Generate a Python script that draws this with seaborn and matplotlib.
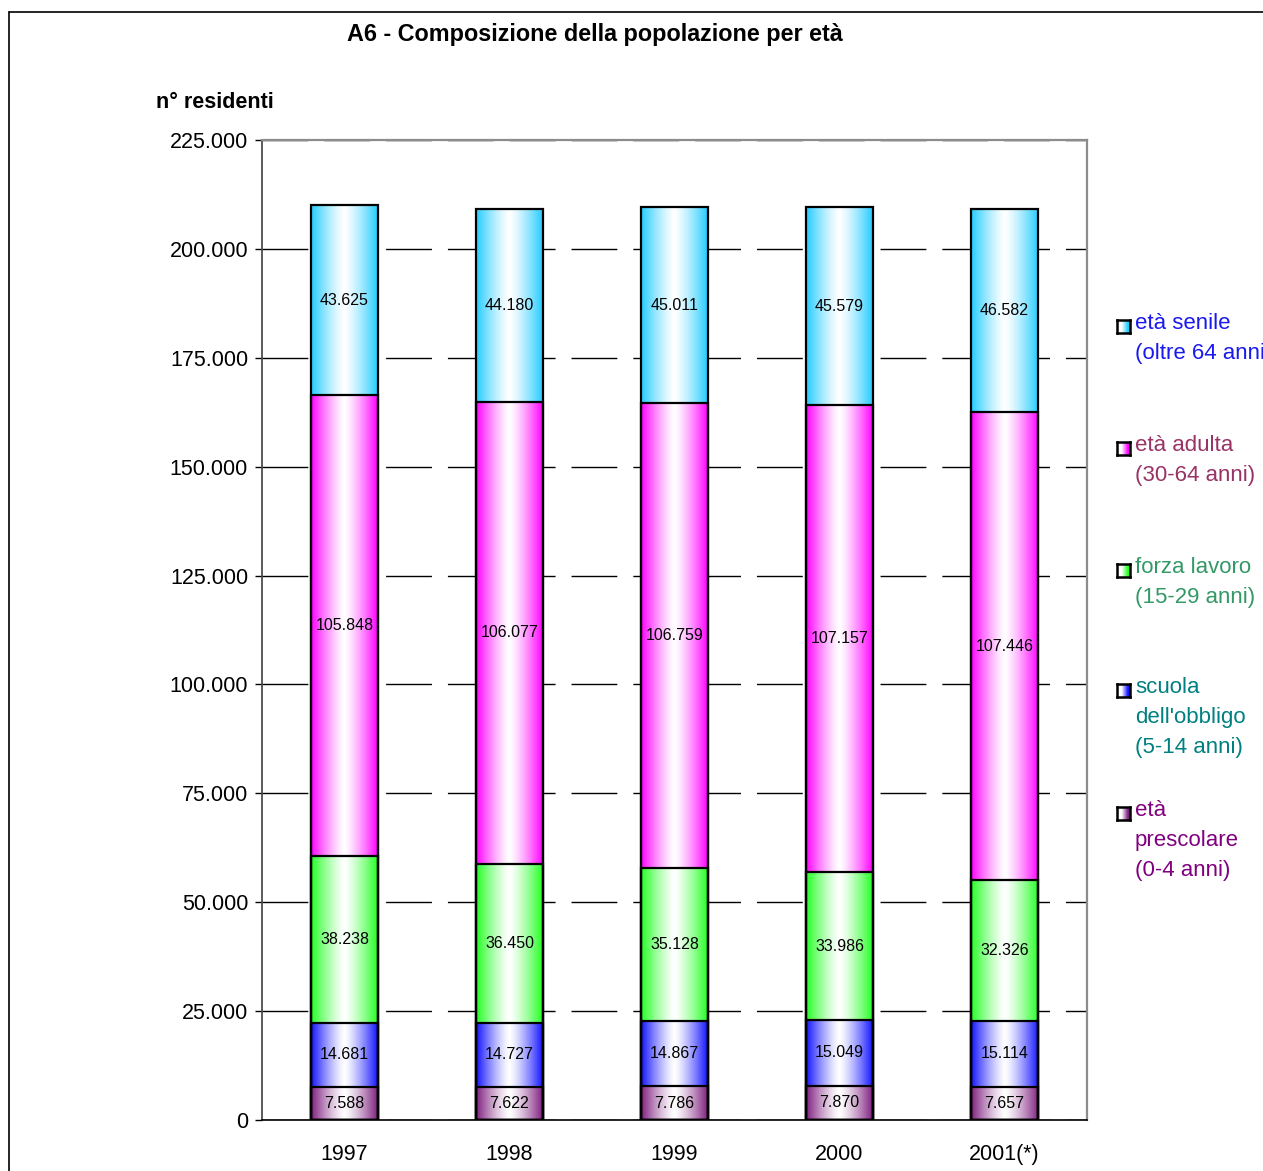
import numpy as np
import pandas as pd
import matplotlib
matplotlib.use("Agg")
import matplotlib.pyplot as plt
import seaborn as sns
from matplotlib.lines import Line2D
from matplotlib.colors import to_rgb

# ---------------- data ----------------
years = ["1997", "1998", "1999", "2000", "2001(*)"]
prescolare = [7588, 7622, 7786, 7870, 7657]
scuola = [14681, 14727, 14867, 15049, 15114]
forza = [38238, 36450, 35128, 33986, 32326]
adulta = [105848, 106077, 106759, 107157, 107446]
senile = [43625, 44180, 45011, 45579, 46582]

series_names = ["prescolare", "scuola", "forza", "adulta", "senile"]
series_vals = [prescolare, scuola, forza, adulta, senile]
series_colors = ["#7f1f7f", "#1414ff", "#22ff22", "#ff00ff", "#22ccff"]

legend_labels = [
    "età senile\n(oltre 64 anni)",
    "età adulta\n(30-64 anni)",
    "forza lavoro\n(15-29 anni)",
    "scuola\ndell'obbligo\n(5-14 anni)",
    "età\nprescolare\n(0-4 anni)",
]
legend_text_colors = ["#1a1aee", "#993366", "#339966", "#008080", "#800080"]
legend_marker_colors = ["#22ccff", "#ff00ff", "#22ff22", "#1414ff", "#7f1f7f"]

yticks = list(range(0, 225001, 25000))
title = "A6 - Composizione della popolazione per età"
ylabel = "n° residenti"

# ---------------- style ----------------
sns.set_style("white")
plt.rcParams["font.family"] = ["Liberation Sans", "DejaVu Sans"]
plt.rcParams["text.color"] = "black"
plt.rcParams["xtick.color"] = "black"
plt.rcParams["ytick.color"] = "black"
plt.rcParams["xtick.labelcolor"] = "black"
plt.rcParams["ytick.labelcolor"] = "black"

W, H = 1263, 1171
fig = plt.figure(figsize=(W / 100, H / 100), dpi=100)
ax = fig.add_axes([262 / W, 1 - 1120 / H, (1087 - 262) / W, (1120 - 140) / H])

# cumulative tops
cum = np.cumsum(np.array(series_vals), axis=0)
bottoms = np.vstack([np.zeros(len(years)), cum[:-1]])

df = pd.DataFrame({"year": years})
bar_w = 67 / 165
n_layers = len(series_names)
# draw tallest first so shorter cumulative bars overlay
for i in range(n_layers - 1, -1, -1):
    df["top"] = cum[i]
    sns.barplot(data=df, x="year", y="top", color=series_colors[i], width=bar_w,
                ax=ax, saturation=1, edgecolor="black", linewidth=1.6,
                order=years)

patches = list(ax.patches)
xs = np.linspace(-1, 1, 200)
t = np.abs(xs)
for k, p in enumerate(patches):
    layer = n_layers - 1 - k // len(years)
    j = k % len(years)
    x0 = p.get_x()
    w = p.get_width()
    top = cum[layer][j]
    bot = bottoms[layer][j]
    c = np.array(to_rgb(series_colors[layer]))
    mix = np.clip(t ** 1.3, 0, 1)[:, None]
    row = (1 - mix) * np.ones(3) + mix * c
    img = np.repeat(row[None, :, :], 2, axis=0)
    ax.imshow(img, extent=[x0, x0 + w, bot, top], aspect="auto",
              zorder=1.5, interpolation="bilinear")
    p.set_facecolor("none")
    p.set_zorder(3)
    ax.text(x0 + w / 2, (bot + top) / 2, f"{series_vals[layer][j]:,}".replace(",", "."),
            ha="center", va="center", fontsize=11.5, color="black", zorder=4)

ax.set_xlim(-0.5, len(years) - 0.5)
ax.set_ylim(0, 225000)
ax.set_yticks(yticks)
ax.set_yticklabels([f"{v:,}".replace(",", ".") for v in yticks], fontsize=15.5)
ax.set_xticks(range(len(years)))
ax.set_xticklabels(years, fontsize=15.5)
ax.set_xticks(np.arange(-0.5, len(years), 1.0), minor=True)
ax.tick_params(axis="x", which="major", length=0, pad=17)
ax.tick_params(axis="x", which="minor", length=6, width=1, direction="out", color="black")
ax.tick_params(axis="y", which="major", length=5, width=1, direction="out", color="black",
               left=True, pad=5)
ax.set_xlabel("")
ax.set_ylabel("")

# dashed grid
ax.yaxis.grid(True, color="black", linewidth=1.0, linestyle=(0, (33, 11.5)), zorder=0.5)
ax.xaxis.grid(False)
ax.set_axisbelow(True)
for g in ax.get_ygridlines():
    g.set_zorder(0.5)

for s in ["top", "right"]:
    ax.spines[s].set_color("#8c8c8c")
    ax.spines[s].set_linewidth(1.6)
ax.spines["left"].set_color("#404040")
ax.spines["left"].set_linewidth(1.2)
ax.spines["bottom"].set_color("black")
ax.spines["bottom"].set_linewidth(1.2)

# title and y label
fig.text(594.5 / W, 1 - 35 / H, title, ha="center", va="center",
         fontsize=16.8, fontweight="bold")
fig.text(215 / W, 1 - 103 / H, ylabel, ha="center", va="center",
         fontsize=15.5, fontweight="bold")

# figure border (extends past the image on right and bottom)
fig.add_artist(Line2D([9 / W, 1.0], [1 - 12 / H, 1 - 12 / H], color="black",
                      linewidth=1.2, transform=fig.transFigure))
fig.add_artist(Line2D([9 / W, 9 / W], [1 - 12 / H, 0.0], color="black",
                      linewidth=1.2, transform=fig.transFigure))

# legend
legend_y = [326, 448, 570, 690, 813]
for lab, tc, mc, yy in zip(legend_labels, legend_text_colors, legend_marker_colors, legend_y):
    fig.text(1135 / W, 1 - (yy - 13) / H, lab, ha="left", va="top",
             fontsize=16, color=tc, linespacing=1.55)
    max_ = fig.add_axes([1117 / W, 1 - (yy + 7) / H, 13 / W, 13 / H])
    gx = np.linspace(0, 1, 50)
    m = np.clip((gx - 0.35) / 0.5, 0, 1)[:, None]
    cc = np.array(to_rgb(mc))
    row = (1 - m) * np.ones(3) + m * cc
    max_.imshow(np.repeat(row[None], 2, axis=0), aspect="auto", extent=[0, 1, 0, 1])
    max_.set_xticks([])
    max_.set_yticks([])
    for s in max_.spines.values():
        s.set_color("black")
        s.set_linewidth(1.8)

fig.savefig("out.png", dpi=100)
